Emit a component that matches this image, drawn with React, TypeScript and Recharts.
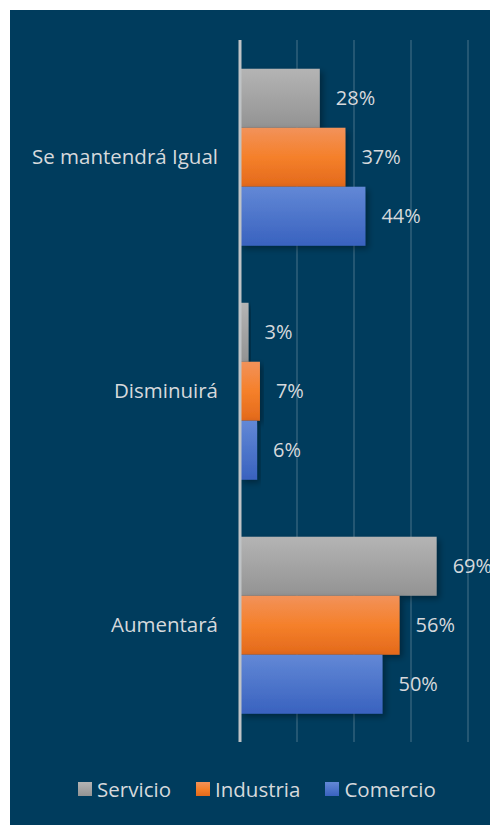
import React from 'react';
import { BarChart, Bar, XAxis, YAxis, CartesianGrid, Legend, LabelList } from 'recharts';

const categories = ['Se mantendrá Igual', 'Disminuirá', 'Aumentará'];
const servicio = [28, 3, 69];
const industria = [37, 7, 56];
const comercio = [44, 6, 50];
const xTicks = [0, 20, 40, 60, 80];

const series = [
  { key: 'servicio', name: 'Servicio', fill: 'url(#gGray)', swatch: 'linear-gradient(#b4b4b4, #939393)' },
  { key: 'industria', name: 'Industria', fill: 'url(#gOrange)', swatch: 'linear-gradient(#f2925a, #f5802a, #e3691b)' },
  { key: 'comercio', name: 'Comercio', fill: 'url(#gBlue)', swatch: 'linear-gradient(#6288d6, #3962bf)' },
];

const data = categories.map((c, i) => ({
  cat: c,
  servicio: servicio[i],
  industria: industria[i],
  comercio: comercio[i],
}));

const FONT = '"Open Sans", "Noto Sans", sans-serif';
const TEXT = '#d6d9dc';

const CatTick = (props: any) => {
  const { x, y, payload } = props;
  return (
    <text x={x - 14} y={y} dy={7} textAnchor="end" fill={TEXT} fontSize={20.5} fontFamily={FONT}>
      {payload.value}
    </text>
  );
};

const LegendContent = () => (
  <div style={{ display: 'flex', justifyContent: 'center', gap: 25, paddingLeft: 36, fontFamily: FONT, fontSize: 20.5, color: TEXT, lineHeight: '26px' }}>
    {series.map(s => (
      <div key={s.key} style={{ display: 'flex', alignItems: 'center' }}>
        <span style={{ display: 'inline-block', width: 14, height: 14, background: s.swatch, marginRight: 5 }} />
        {s.name}
      </div>
    ))}
  </div>
);

export default function App() {
  return (
    <div style={{ position: 'fixed', left: 10, top: 10, width: 480, height: 815, background: '#003c5d' }}>
      <BarChart
        width={480}
        height={815}
        data={data}
        layout="vertical"
        margin={{ top: 30, right: 22, bottom: 57, left: 0 }}
        barCategoryGap="12.3%"
        barGap={0}
      >
        <defs>
          <linearGradient id="gGray" x1="0" y1="0" x2="0" y2="1">
            <stop offset="0%" stopColor="#b4b4b4" />
            <stop offset="100%" stopColor="#939393" />
          </linearGradient>
          <linearGradient id="gOrange" x1="0" y1="0" x2="0" y2="1">
            <stop offset="0%" stopColor="#f2925a" />
            <stop offset="50%" stopColor="#f5802a" />
            <stop offset="100%" stopColor="#e3691b" />
          </linearGradient>
          <linearGradient id="gBlue" x1="0" y1="0" x2="0" y2="1">
            <stop offset="0%" stopColor="#6288d6" />
            <stop offset="100%" stopColor="#3962bf" />
          </linearGradient>
          <filter id="shadow" x="-10%" y="-10%" width="130%" height="140%">
            <feDropShadow dx="3" dy="3" stdDeviation="3" floodColor="#000" floodOpacity="0.35" />
          </filter>
        </defs>
        <CartesianGrid horizontal={false} stroke="rgba(255,255,255,0.14)" strokeWidth={2} />
        <XAxis
          type="number"
          domain={[0, 80]}
          ticks={xTicks}
          tick={{ fill: 'none', fontSize: 1 }}
          axisLine={false}
          tickLine={false}
          height={0}
        />
        <YAxis
          type="category"
          dataKey="cat"
          width={230}
          tickLine={false}
          axisLine={{ stroke: '#bfc3c6', strokeWidth: 3 }}
          tick={<CatTick />}
        />
        <Legend verticalAlign="bottom" wrapperStyle={{ bottom: 23 }} content={<LegendContent />} />
        {series.map(s => (
          <Bar key={s.key} dataKey={s.key} name={s.name} fill={s.fill} filter="url(#shadow)" isAnimationActive={false}>
            <LabelList
              dataKey={s.key}
              position="right"
              offset={16}
              formatter={(v: any) => `${v}%`}
              fill={TEXT}
              fontSize={20}
              fontFamily={FONT}
            />
          </Bar>
        ))}
      </BarChart>
    </div>
  );
}
